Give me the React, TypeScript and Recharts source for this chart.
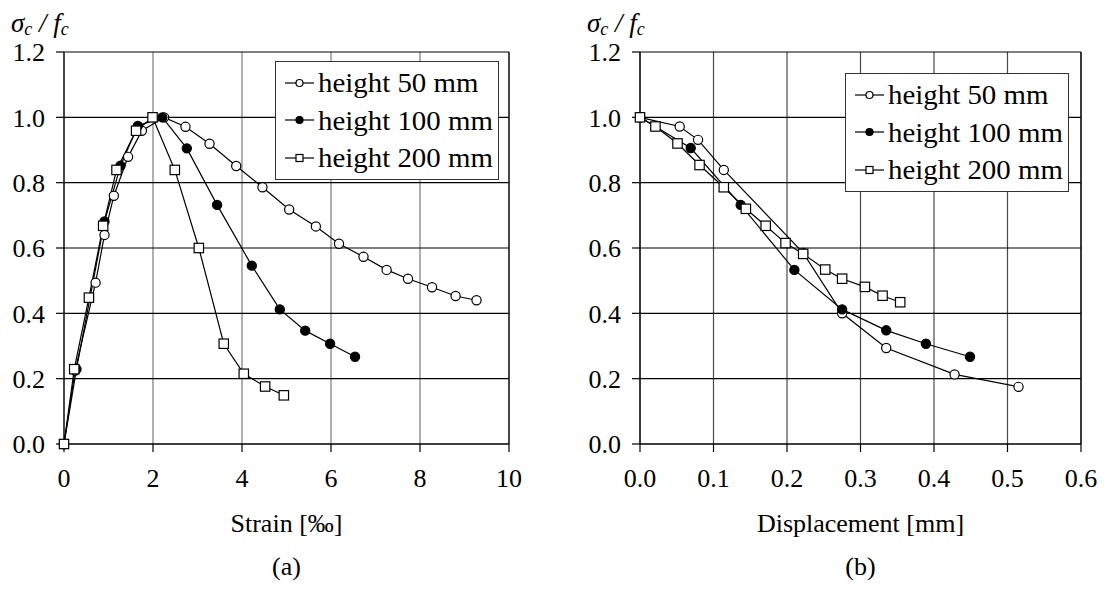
import React from 'react';
import { LineChart, Line, XAxis, YAxis, CartesianGrid, Legend, ReferenceLine } from 'recharts';

// strain [‰] vs sigma_c / f_c
const STRAIN_50: [number, number][] = [
  [0, 0], [0.25, 0.225], [0.71, 0.494], [0.91, 0.64], [1.12, 0.76], [1.44, 0.879], [1.75, 0.959],
  [2.25, 1.0], [2.73, 0.971], [3.27, 0.919], [3.87, 0.851], [4.46, 0.786], [5.06, 0.718],
  [5.66, 0.666], [6.18, 0.613], [6.73, 0.573], [7.25, 0.533], [7.73, 0.506], [8.27, 0.48],
  [8.8, 0.453], [9.27, 0.44],
];
const STRAIN_100: [number, number][] = [
  [0, 0], [0.28, 0.229], [0.91, 0.681], [1.27, 0.852], [1.66, 0.974], [2.21, 1.0], [2.76, 0.905],
  [3.44, 0.732], [4.22, 0.546], [4.85, 0.412], [5.42, 0.347], [5.98, 0.307], [6.54, 0.267],
];
const STRAIN_200: [number, number][] = [
  [0, 0], [0.23, 0.229], [0.56, 0.448], [0.88, 0.668], [1.18, 0.839], [1.62, 0.959], [1.99, 1.0],
  [2.49, 0.839], [3.03, 0.6], [3.59, 0.307], [4.04, 0.215], [4.52, 0.176], [4.94, 0.149],
];

// displacement [mm] vs sigma_c / f_c
const DISP_50: [number, number][] = [
  [0, 1.0], [0.054, 0.972], [0.079, 0.931], [0.114, 0.839], [0.222, 0.585], [0.275, 0.4],
  [0.335, 0.294], [0.428, 0.213], [0.515, 0.175],
];
const DISP_100: [number, number][] = [
  [0, 1.0], [0.069, 0.906], [0.137, 0.732], [0.21, 0.533], [0.275, 0.412], [0.335, 0.348],
  [0.389, 0.307], [0.449, 0.267],
];
const DISP_200: [number, number][] = [
  [0, 1.0], [0.021, 0.972], [0.051, 0.92], [0.081, 0.854], [0.114, 0.786], [0.144, 0.72],
  [0.171, 0.668], [0.198, 0.615], [0.222, 0.582], [0.252, 0.534], [0.275, 0.506], [0.306, 0.481],
  [0.33, 0.454], [0.354, 0.434],
];

const SERIES_NAMES = ['height 50 mm', 'height 100 mm', 'height 200 mm'];
const MARKERS = ['open', 'filled', 'square'];

const Y_TICKS = [0, 0.2, 0.4, 0.6, 0.8, 1.0, 1.2];
const STRAIN_TICKS = [0, 2, 4, 6, 8, 10];
const DISP_TICKS = [0, 0.1, 0.2, 0.3, 0.4, 0.5, 0.6];

const FONT = '"Liberation Serif", serif';

const toPts = (a: [number, number][]) => a.map(([x, y]) => ({ x, y }));

const Marker = ({ kind, cx, cy, size }: any) => {
  if (kind === 'square') {
    return <rect x={cx - size} y={cy - size} width={size * 2} height={size * 2} fill="#fff" stroke="#000" strokeWidth={1.2} />;
  }
  return <circle cx={cx} cy={cy} r={size} fill={kind === 'filled' ? '#000' : '#fff'} stroke="#000" strokeWidth={1.2} />;
};

const makeDot = (kind: string) => (p: any) => (
  <Marker key={`d-${p.index}`} kind={kind} cx={p.cx} cy={p.cy} size={kind === 'square' ? 4.7 : 4.6} />
);

const BoxLegend = () => (
  <div style={{ width: 222, border: '1px solid #333', background: '#fff', padding: '2px 0', fontFamily: FONT }}>
    {SERIES_NAMES.map((name, i) => (
      <div key={name} style={{ display: 'flex', alignItems: 'center', height: 37.5 }}>
        <svg width={34} height={20} style={{ marginLeft: 8 }}>
          <line x1={1} y1={10} x2={30} y2={10} stroke="#000" strokeWidth={1.2} />
          <Marker kind={MARKERS[i]} cx={15.5} cy={10} size={3.5} />
        </svg>
        <span style={{ fontSize: 27.5, color: '#000', lineHeight: 1, fontFamily: FONT, display: 'inline-block', transform: 'scaleX(1.05)', transformOrigin: 'left center' }}>{name}</span>
      </div>
    ))}
  </div>
);

const SigmaLabel = ({ x }: { x: number }) => (
  <text x={x} y={32} style={{ fontFamily: FONT }} fontSize={27} fontStyle="italic" fill="#000">
    σ<tspan dy={3} fontSize={18}>c</tspan>
    <tspan dy={-3}> / f</tspan>
    <tspan dy={3} fontSize={18}>c</tspan>
  </text>
);

const XTitle = ({ viewBox, title, tag }: any) => {
  const cx = viewBox.x + viewBox.width / 2;
  return (
    <g style={{ fontFamily: FONT }}>
      <text x={cx} y={532} textAnchor="middle" fontSize={26} fill="#000">{title}</text>
      <text x={cx} y={575} textAnchor="middle" fontSize={26} fill="#000">{tag}</text>
    </g>
  );
};

interface PanelProps {
  series: [number, number][][];
  xTicks: number[];
  xMax: number;
  xFmt: (v: number) => string;
  title: string;
  tag: string;
  yAxisWidth: number;
  rightMargin: number;
  sigmaX: number;
  legendLeft: number;
  legendTop: number;
  vGrid: string;
}

const tickStyle = { fontSize: 26, fill: '#000', style: { fontFamily: FONT } };

const Panel = (p: PanelProps) => (
  <LineChart width={552} height={590} margin={{ top: 52, right: p.rightMargin, bottom: 0, left: 0 }} style={{ fontFamily: FONT }}>
    <CartesianGrid horizontal={false} stroke={p.vGrid} strokeWidth={1.2} />
    <CartesianGrid vertical={false} stroke="#000" strokeWidth={1.2} />
    <ReferenceLine x={p.xMax} stroke="#000" strokeWidth={1.2} />
    <XAxis
      type="number"
      dataKey="x"
      domain={[0, p.xMax]}
      ticks={p.xTicks}
      tickFormatter={p.xFmt}
      height={146}
      tickSize={8}
      tickMargin={17}
      stroke="#000"
      strokeWidth={1.2}
      tick={tickStyle}
      label={(lp: any) => <XTitle viewBox={lp.viewBox} title={p.title} tag={p.tag} />}
    />
    <YAxis
      type="number"
      domain={[0, 1.2]}
      ticks={Y_TICKS}
      tickFormatter={(v: number) => v.toFixed(1)}
      width={p.yAxisWidth}
      tickSize={8}
      tickMargin={11}
      stroke="#000"
      strokeWidth={1.2}
      tick={tickStyle}
      label={() => <SigmaLabel x={p.sigmaX} />}
    />
    {p.series.map((s, i) => (
      <Line
        key={SERIES_NAMES[i]}
        name={SERIES_NAMES[i]}
        data={toPts(s)}
        dataKey="y"
        type="linear"
        stroke="#000"
        strokeWidth={1.2}
        dot={makeDot(MARKERS[i])}
        activeDot={false}
        isAnimationActive={false}
      />
    ))}
    <Legend
      layout="vertical"
      align="center"
      verticalAlign="middle"
      wrapperStyle={{ left: p.legendLeft, top: p.legendTop, width: 'auto' }}
      content={() => <BoxLegend />}
    />
  </LineChart>
);

export default function App() {
  return (
    <div style={{ position: 'absolute', left: 0, top: 0, width: 1104, height: 590, background: '#fff', display: 'flex', fontFamily: FONT }}>
      <Panel
        series={[STRAIN_50, STRAIN_100, STRAIN_200]}
        xTicks={STRAIN_TICKS}
        xMax={10}
        xFmt={(v) => String(v)}
        title="Strain [‰]"
        tag="(a)"
        yAxisWidth={64}
        rightMargin={43}
        sigmaX={11}
        legendLeft={275}
        legendTop={61}
        vGrid="#7a7a7a"
      />
      <Panel
        series={[DISP_50, DISP_100, DISP_200]}
        xTicks={DISP_TICKS}
        xMax={0.6}
        xFmt={(v) => v.toFixed(1)}
        title="Displacement [mm]"
        tag="(b)"
        yAxisWidth={88}
        rightMargin={23}
        sigmaX={35}
        legendLeft={293}
        legendTop={73}
        vGrid="#4a4a4a"
      />
    </div>
  );
}
